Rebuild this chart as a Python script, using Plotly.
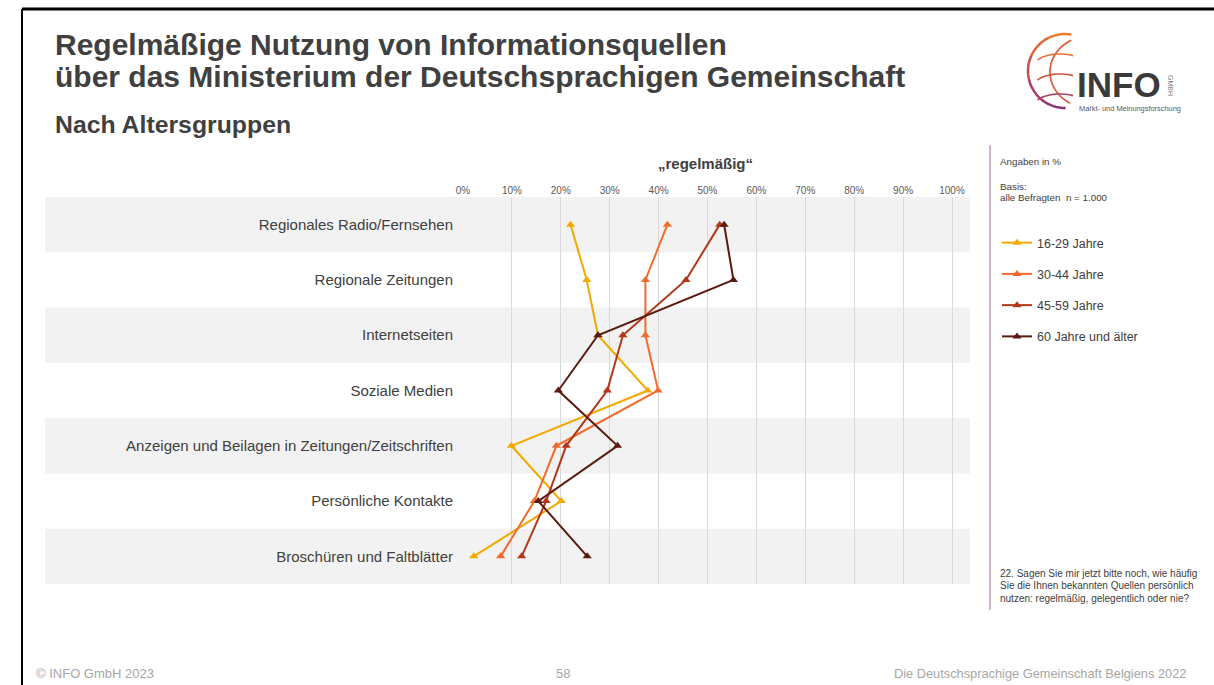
import math
import plotly.graph_objects as go

# data (share "regelmäßig", in %)
categories = [
    "Regionales Radio/Fernsehen",
    "Regionale Zeitungen",
    "Internetseiten",
    "Soziale Medien",
    "Anzeigen und Beilagen in Zeitungen/Zeitschriften",
    "Persönliche Kontakte",
    "Broschüren und Faltblätter",
]
age_groups = ["16-29 Jahre", "30-44 Jahre", "45-59 Jahre", "60 Jahre und älter"]
v_16_29 = [22.0, 25.3, 27.6, 37.8, 9.9, 20.1, 2.2]
v_30_44 = [41.8, 37.3, 37.3, 39.9, 19.1, 14.6, 7.7]
v_45_59 = [52.5, 45.6, 32.7, 29.5, 21.1, 17.0, 12.0]
v_60 = [53.4, 55.3, 27.6, 19.5, 31.6, 15.4, 25.4]
tick_vals = [0, 10, 20, 30, 40, 50, 60, 70, 80, 90, 100]
tick_text = [f"{v}%" for v in tick_vals]

colors = ["#F2A900", "#F26B2D", "#B3381B", "#5A1B0E"]
TXT = "#404040"
FONT = "Arial, Liberation Sans, sans-serif"

# plot area in pixels
W, H = 1214, 685
L, R, T, B = 463, 970, 197, 584


def px(x):
    return (x - L) / (R - L)


def py(y):
    return (B - y) / (B - T)


fig = go.Figure()

for name, vals, col in zip(age_groups, [v_16_29, v_30_44, v_45_59, v_60], colors):
    fig.add_trace(go.Scatter(
        x=vals, y=categories, name=name, mode="lines+markers",
        line=dict(color=col, width=2),
        marker=dict(symbol="triangle-up", size=8, color=col),
        legendgroup=name,
    ))

shapes = []
# grey bands behind every second row
for i in range(0, len(categories), 2):
    shapes.append(dict(type="rect", xref="paper", yref="y",
                       x0=px(45), x1=1, y0=i - 0.5, y1=i + 0.5,
                       fillcolor="#F2F2F2", line_width=0, layer="below"))

# slide frame
shapes.append(dict(type="line", xref="paper", yref="paper",
                   x0=px(22), x1=px(W + 5), y0=py(9), y1=py(9),
                   line=dict(color="black", width=3)))
shapes.append(dict(type="line", xref="paper", yref="paper",
                   x0=px(22), x1=px(22), y0=py(9), y1=py(H + 5),
                   line=dict(color="black", width=2)))
# pink separator on the right
shapes.append(dict(type="line", xref="paper", yref="paper",
                   x0=px(990), x1=px(990), y0=py(145), y1=py(610),
                   line=dict(color="#C996B8", width=1.5)))


# logo: globe arcs drawn as small polyline paths
def arc_path(cx, cy, rx, ry, a0, a1, n=24):
    pts = []
    for k in range(n + 1):
        a = math.radians(a0 + (a1 - a0) * k / n)
        pts.append((px(cx + rx * math.cos(a)), py(cy - ry * math.sin(a))))
    return "M " + " L ".join(f"{x:.5f},{y:.5f}" for x, y in pts)


globe_cols = ["#EE7B30", "#E0683A", "#C65050", "#A9406A", "#8E3375"]
for k, c in enumerate(globe_cols):
    a0 = 80 + k * 38
    shapes.append(dict(type="path", xref="paper", yref="paper",
                       path=arc_path(1065, 71, 37, 37, a0, a0 + 39, 8),
                       line=dict(color=c, width=2.5)))
# inner meridian + parallels
shapes.append(dict(type="path", xref="paper", yref="paper",
                   path=arc_path(1090, 72, 40, 36, 118, 240),
                   line=dict(color="#D9653E", width=1.8)))
for yy, c in [(52, "#E3733A"), (72, "#C9573F"), (92, "#A8436A")]:
    shapes.append(dict(type="path", xref="paper", yref="paper",
                       path=arc_path(1060, yy + 14, 26, 12, 150, 60, 10),
                       line=dict(color=c, width=1.6)))

ann = []


def text(x, y, s, size, color=TXT, xanchor="left", bold=False, **kw):
    if bold:
        s = f"<b>{s}</b>"
    ann.append(dict(xref="paper", yref="paper", x=px(x), y=py(y), text=s,
                    showarrow=False, xanchor=xanchor, yanchor="middle",
                    font=dict(size=size, color=color, family=FONT), **kw))


text(53, 44, "Regelmäßige Nutzung von Informationsquellen", 30, bold=True)
text(53, 77, "über das Ministerium der Deutschsprachigen Gemeinschaft", 30, bold=True)
text(53, 125, "Nach Altersgruppen", 24.8, bold=True)
text(705, 163, "„regelmäßig“", 15, xanchor="center", bold=True)

text(998, 162, "Angaben in %", 9.8)
text(998, 186, "Basis:", 9.8)
text(998, 197, "alle Befragten  n = 1.000", 9.8)
text(998, 573, "22. Sagen Sie mir jetzt bitte noch, wie häufig", 10)
text(998, 585, "Sie die Ihnen bekannten Quellen persönlich", 10)
text(998, 598, "nutzen: regelmäßig, gelegentlich oder nie?", 10)

text(34, 673, "© INFO GmbH 2023", 13, color="#A6A6A6")
text(563, 673, "58", 13, color="#A6A6A6", xanchor="center")
text(1188, 673, "Die Deutschsprachige Gemeinschaft Belgiens 2022", 12.8,
     color="#A6A6A6", xanchor="right")

# logo texts
text(1075, 84, "INFO", 35, color="#3A3A3A", bold=True)
text(1171, 85, "GMBH", 7, color="#7F7F7F", xanchor="center", textangle=90)
text(1077, 108, "Markt- und Meinungsforschung", 7.4, color="#595959")

fig.update_layout(
    width=W, height=H,
    margin=dict(l=L, r=W - R, t=T, b=H - B, pad=0),
    paper_bgcolor="white", plot_bgcolor="rgba(0,0,0,0)",
    font=dict(family=FONT, color=TXT),
    shapes=shapes, annotations=ann,
    showlegend=True,
    legend=dict(x=px(997), y=py(228), xanchor="left", yanchor="top",
                font=dict(size=12.5, color=TXT, family=FONT),
                tracegroupgap=12, itemwidth=30, bgcolor="rgba(0,0,0,0)",
                traceorder="grouped"),
)
fig.update_xaxes(range=[0, (R - L) / 4.89], side="top",
                 tickvals=tick_vals, ticktext=tick_text,
                 tickfont=dict(size=10, color="#595959"),
                 showgrid=True, gridcolor="#D9D9D9", gridwidth=1,
                 zeroline=False, showline=False, ticks="")
fig.update_yaxes(range=[len(categories) - 0.5, -0.5], type="category",
                 tickfont=dict(size=15, color=TXT), showgrid=False,
                 zeroline=False, showline=False, ticks="", ticklabelstandoff=9)

# page body has an 8px default margin; drop it so the figure sits at 0,0
fig.write_html("out.html", config={"displayModeBar": False},
               post_script="document.body.style.margin='0';")
